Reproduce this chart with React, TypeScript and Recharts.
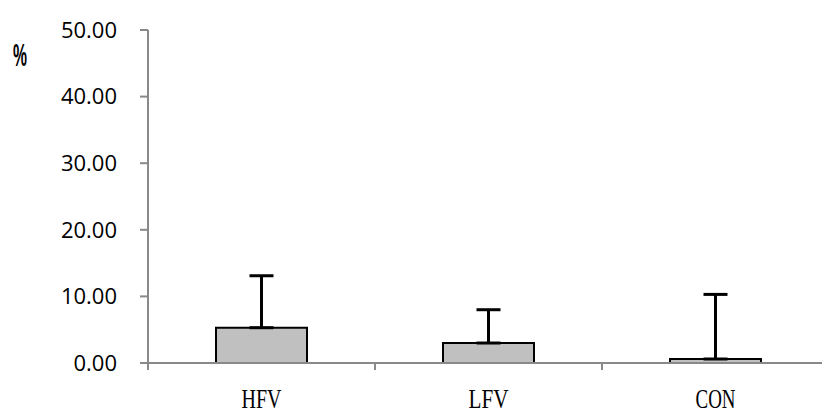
import { BarChart, Bar, XAxis, YAxis, ErrorBar } from 'recharts'

const groups = ['HFV', 'LFV', 'CON']
const means = [5.3, 3.0, 0.6]
const sdUp = [7.8, 5.0, 9.7]
const yTicks = [0, 10, 20, 30, 40, 50]

const data = groups.map((g, i) => ({ name: g, value: means[i], err: [0, sdUp[i]] }))

const CHART_W = 840
const CHART_H = 414
const MARGIN = { top: 30, right: 11, left: 0, bottom: 0 }
const Y_W = 148
const X_H = 51
const PLOT_W = CHART_W - MARGIN.left - MARGIN.right - Y_W

/* ── x tick: label at centre, tick mark at the left category edge ── */
function GroupTick(props: any) {
  const { x, y, payload } = props
  const half = PLOT_W / groups.length / 2
  return (
    <g>
      <line x1={x - half} x2={x - half} y1={y} y2={y + 7} stroke="#898989" strokeWidth={2} />
      <text
        x={x}
        y={y + 45}
        textAnchor="middle"
        fontFamily="Liberation Serif, serif"
        fontSize={28}
        textLength={40}
        lengthAdjust="spacingAndGlyphs"
        fill="#000"
      >
        {payload.value}
      </text>
    </g>
  )
}

export default function App() {
  return (
    <div style={{ position: 'absolute', left: 0, top: 0, width: 822, height: 414, overflow: 'hidden', background: '#fff' }}>
      <BarChart width={CHART_W} height={CHART_H} data={data} margin={MARGIN}>
        <XAxis
          dataKey="name"
          height={X_H}
          tickLine={false}
          tickSize={0}
          tickMargin={0}
          tick={<GroupTick />}
          axisLine={{ stroke: '#898989', strokeWidth: 2 }}
          interval={0}
        />
        <YAxis
          width={Y_W}
          domain={[0, 50]}
          ticks={yTicks}
          interval={0}
          tickFormatter={(v: number) => v.toFixed(2)}
          tickSize={8}
          tickMargin={23}
          tick={{ fontSize: 22, fill: '#000', fontFamily: 'Open Sans, sans-serif' }}
          tickLine={{ stroke: '#898989', strokeWidth: 2 }}
          axisLine={{ stroke: '#898989', strokeWidth: 2 }}
        />
        <Bar dataKey="value" fill="#c0c0c0" stroke="#000" strokeWidth={2} barSize={91} isAnimationActive={false}>
          <ErrorBar dataKey="err" width={12} stroke="#000" strokeWidth={3} direction="y" />
        </Bar>
      </BarChart>
      <svg style={{ position: 'absolute', left: 0, top: 0 }} width={60} height={80}>
        <text
          x={13}
          y={66}
          fontFamily="Liberation Sans, sans-serif"
          fontWeight="bold"
          fontSize={31}
          textLength={14}
          lengthAdjust="spacingAndGlyphs"
          fill="#000"
        >
          %
        </text>
      </svg>
    </div>
  )
}
